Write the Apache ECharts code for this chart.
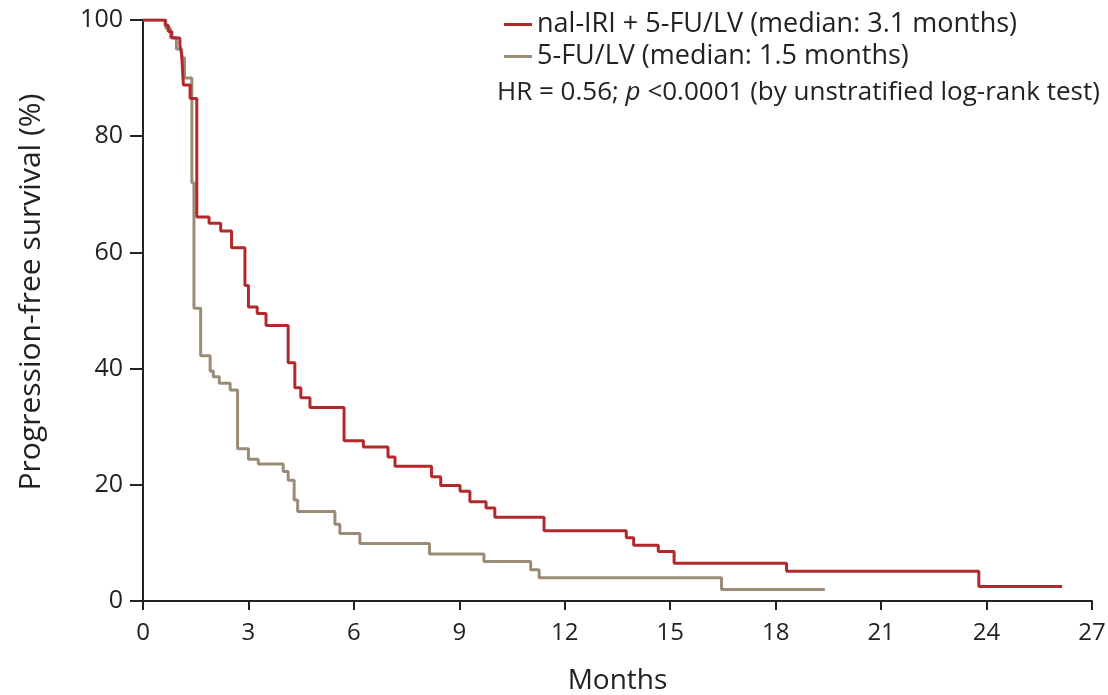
<!DOCTYPE html>
<html>
<head>
<meta charset="utf-8">
<script src="https://cdn.jsdelivr.net/npm/echarts@6/dist/echarts.min.js"></script>
<style>
html,body{margin:0;padding:0;background:#fff;}
#chart{width:1108px;height:695px;}
</style>
</head>
<body>
<div id="chart"></div>
<script>
// Data
var nalMonths = [0,0.63,0.72,0.82,1.05,1.10,1.15,1.34,1.53,1.88,2.21,2.52,2.90,3.00,3.25,3.50,4.13,4.32,4.49,4.75,5.72,6.27,6.97,7.17,8.21,8.47,9.02,9.30,9.76,10.01,11.41,13.75,13.96,14.66,15.11,18.31,23.78,26.15];
var nalPFS    = [100,99.1,98.0,96.9,95.6,94.0,88.8,86.5,66.1,65.0,63.7,60.8,54.3,50.6,49.5,47.4,41.0,36.7,35.0,33.3,27.6,26.5,24.8,23.2,21.4,19.9,18.9,17.1,16.0,14.4,12.1,10.9,9.6,8.5,6.5,5.1,2.5,2.5];
var fuMonths = [0,0.65,0.78,0.95,1.10,1.18,1.39,1.45,1.64,1.91,2.00,2.17,2.48,2.69,3.00,3.28,3.99,4.13,4.30,4.40,5.46,5.60,6.17,8.15,9.70,11.03,11.27,16.46,19.40];
var fuPFS    = [100,98.6,97.0,95.0,93.5,90.0,72.0,50.4,42.2,39.6,38.6,37.5,36.3,26.2,24.4,23.6,22.3,20.8,17.4,15.4,13.2,11.6,9.9,8.1,6.8,5.4,4.0,2.0,2.0];
var seriesNames = ['nal-IRI + 5-FU/LV (median: 3.1 months)', '5-FU/LV (median: 1.5 months)'];
var xTicks = [0,3,6,9,12,15,18,21,24,27];
var yTicks = [0,20,40,60,80,100];
var yTitle = 'Progression-free survival (%)';
var xTitle = 'Months';

function pairs(xs, ys){ return xs.map(function(x,i){ return [x, ys[i]]; }); }

var FONT = 'Open Sans';
var RED = '#b3282b';
var GRAY = '#9b8b76';

var chart = echarts.init(document.getElementById('chart'));
chart.setOption({
  backgroundColor: '#ffffff',
  animation: false,
  grid: {left: 143, right: 16, top: 20, bottom: 94, containLabel: false, outerBoundsMode: 'none'},
  legend: {
    orient: 'vertical',
    left: 499, top: 6,
    itemWidth: 28, itemHeight: 3, itemGap: 5,
    icon: 'rect',
    textStyle: {fontFamily: FONT, fontSize: 27, color: '#222'},
    data: seriesNames
  },
  xAxis: {
    type: 'value', min: 0, max: 27, interval: 3,
    name: xTitle, nameLocation: 'middle', nameGap: 66,
    nameTextStyle: {fontFamily: FONT, fontSize: 28, color: '#222'},
    axisLine: {lineStyle: {color: '#222', width: 2}},
    axisTick: {show: true, length: 9, lineStyle: {color: '#222', width: 2}},
    axisLabel: {fontFamily: FONT, fontSize: 24, color: '#222', margin: 20},
    splitLine: {show: false}
  },
  yAxis: {
    type: 'value', min: 0, max: 100, interval: 20,
    axisLine: {show: true, lineStyle: {color: '#222', width: 2}},
    axisTick: {show: true, length: 13, lineStyle: {color: '#222', width: 2}},
    axisLabel: {fontFamily: FONT, fontSize: 25, color: '#222', margin: 20},
    splitLine: {show: false}
  },
  graphic: [{
    type: 'text', left: 497, top: 80,
    style: {
      text: '{n|HR = 0.56; }{i|p}{n| <0.0001 (by unstratified log-rank test)}',
      rich: {
        n: {fontFamily: FONT, fontSize: 26, fill: '#222'},
        i: {fontFamily: FONT, fontSize: 26, fontStyle: 'italic', fill: '#222'}
      }
    }
  }, {
    type: 'text', x: 31, y: 292, rotation: Math.PI / 2,
    style: {
      text: yTitle, fontFamily: FONT, fontSize: 30, fill: '#222',
      align: 'center', verticalAlign: 'middle'
    }
  }],
  series: [
    {name: seriesNames[0], type: 'line', step: 'end', showSymbol: false, color: RED,
     lineStyle: {color: RED, width: 3}, data: pairs(nalMonths, nalPFS), z: 3},
    {name: seriesNames[1], type: 'line', step: 'end', showSymbol: false, color: GRAY,
     lineStyle: {color: GRAY, width: 3}, data: pairs(fuMonths, fuPFS), z: 2}
  ]
});
</script>
</body>
</html>
